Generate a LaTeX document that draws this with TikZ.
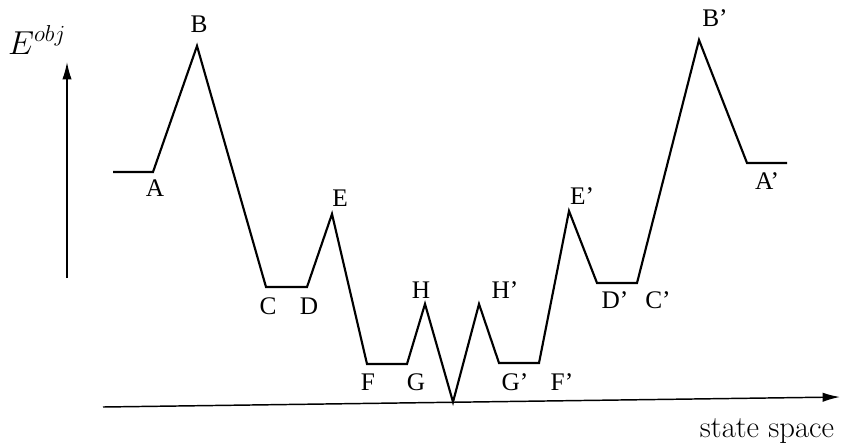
\documentclass[tikz,border=0pt]{standalone}
\usepackage{fontspec}
\newfontfamily\lblfont{Liberation Serif}
\usetikzlibrary{arrows.meta}
\begin{document}
\begin{tikzpicture}[x=0.75pt,y=-0.75pt,
  curve/.style={line width=1.6pt,line join=miter},
  axis/.style={line width=1.1pt,-{Latex[length=13pt,width=7pt]}},
  lbl/.style={font=\lblfont\fontsize{19}{22}\selectfont,inner sep=0pt}]
\useasboundingbox (0,0) rectangle (841,443);
% curve points
\coordinate (S) at (113,172);
\coordinate (A) at (153,172);
\coordinate (B) at (197,46);
\coordinate (C) at (266,287);
\coordinate (D) at (307,287);
\coordinate (E) at (332,214);
\coordinate (F) at (367,364);
\coordinate (G) at (407,364);
\coordinate (H) at (425,304);
\coordinate (M) at (453,402);
\coordinate (Hp) at (479,304);
\coordinate (Gp) at (499,363);
\coordinate (Fp) at (539,363);
\coordinate (Ep) at (569,211);
\coordinate (Dp) at (597,283);
\coordinate (Cp) at (637,283);
\coordinate (Bp) at (699,40);
\coordinate (Ap) at (747,163);
\coordinate (T) at (787,163);
\draw[curve] (S) -- (A) -- (B) -- (C) -- (D) -- (E) -- (F) -- (G) -- (H) -- (M) -- (Hp) -- (Gp) -- (Fp) -- (Ep) -- (Dp) -- (Cp) -- (Bp) -- (Ap) -- (T);
% axes
\coordinate (v0) at (67,278);
\coordinate (v1) at (67,62);
\coordinate (h0) at (103,407);
\coordinate (h1) at (840,397);
\draw[axis] (v0) -- (v1);
\draw[axis] (h0) -- (h1);
% labels
\node[font=\fontsize{24}{28}\selectfont,inner sep=0pt] (Eobj) at (37,40) {$E^{obj}$};
\node[lbl] (lA) at (155,188) {A};
\node[lbl] (lB) at (199,24) {B};
\node[lbl] (lC) at (268,306) {C};
\node[lbl] (lD) at (309,306) {D};
\node[lbl] (lE) at (340,198) {E};
\node[lbl] (lF) at (368,382) {F};
\node[lbl] (lG) at (416,382) {G};
\node[lbl] (lH) at (421,290) {H};
\node[lbl] (lHp) at (505,290) {H’};
\node[lbl] (lGp) at (515,382) {G’};
\node[lbl] (lFp) at (562,382) {F’};
\node[lbl] (lEp) at (582,196) {E’};
\node[lbl] (lDp) at (615,300) {D’};
\node[lbl] (lCp) at (658,300) {C’};
\node[lbl] (lBp) at (715,18) {B’};
\node[lbl] (lAp) at (767,181) {A’};
\node[font=\fontsize{23}{26}\selectfont,inner sep=0pt,anchor=base] (ss) at (767,437) {state space};
\end{tikzpicture}
\end{document}
